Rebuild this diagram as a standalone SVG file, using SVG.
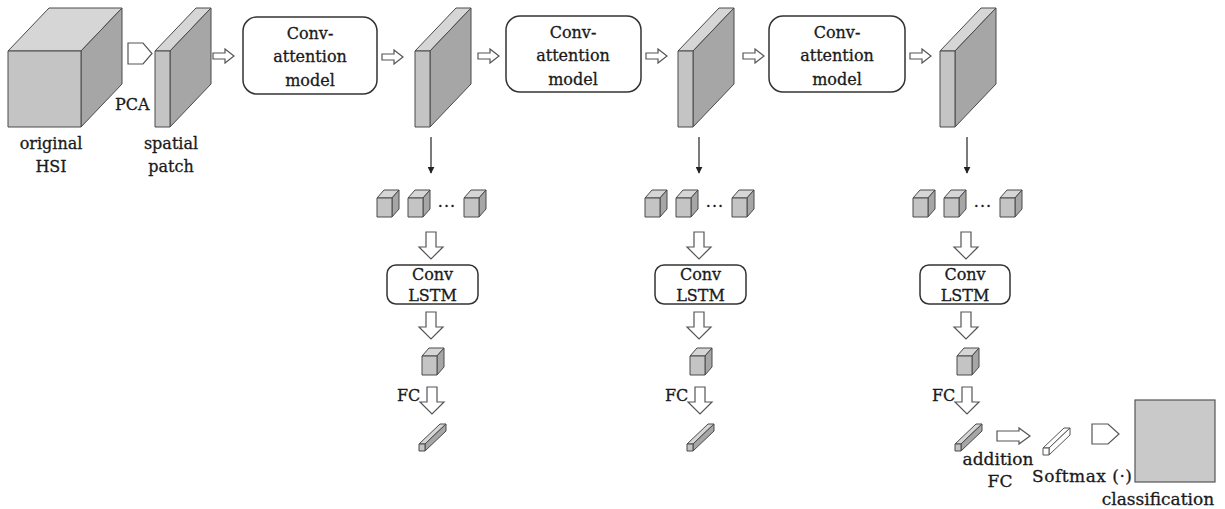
<svg xmlns="http://www.w3.org/2000/svg" width="1225" height="509" viewBox="0 0 1225 509">
<style>
text{font-family:"DejaVu Serif","Liberation Serif",serif;fill:#1a1a1a;stroke:#1a1a1a;stroke-width:0.3;font-size:16px}
.c{text-anchor:middle}
.top{fill:#d6d6d6;stroke:#4a4a4a;stroke-width:1;stroke-linejoin:round}
.front{fill:#c4c4c4;stroke:#4a4a4a;stroke-width:1;stroke-linejoin:round}
.side{fill:#a6a6a6;stroke:#4a4a4a;stroke-width:1;stroke-linejoin:round}
.box{fill:#fff;stroke:#333;stroke-width:1.5}
.ha{fill:#fff;stroke:#555;stroke-width:1.2;stroke-linejoin:miter}
.thin{stroke:#222;stroke-width:1.2;fill:none}
.wb{fill:#fff;stroke:#555;stroke-width:1;stroke-linejoin:round}
.lg{font-size:17px}
</style>
<defs>
<marker id="ah" viewBox="0 0 10 10" refX="9" refY="5" markerWidth="7" markerHeight="7" markerUnits="userSpaceOnUse" orient="auto"><path d="M0,0 L10,5 L0,10 Z" fill="#222"/></marker>
<path id="ra" class="ha" d="M0,-3 H12 V-7 L21,0 L12,7 V3 H0 Z"/>
<path id="da" class="ha" d="M-5,0 H5 V15 H12 L0,27 L-12,15 H-5 Z"/>
<g id="cube">
<path class="top" d="M0,0 L15,0 L22,-8 L7,-8 Z"/>
<path class="side" d="M15,0 L22,-8 L22,11 L15,19 Z"/>
<rect class="front" x="0" y="0" width="15" height="19"/>
</g>
<g id="bar">
<path class="top" d="M0,0 L6,0 L27,-20 L21,-20 Z"/>
<path class="side" d="M6,0 L27,-20 L27,-13 L6,7 Z"/>
<rect class="front" x="0" y="0" width="6" height="7"/>
</g>
<g id="wbar">
<path class="wb" d="M0,0 L6,0 L27,-20 L21,-20 Z"/>
<path class="wb" d="M6,0 L27,-20 L27,-13 L6,7 Z"/>
<rect class="wb" x="0" y="0" width="6" height="7"/>
</g>
<g id="slab">
<path class="top" d="M0,0 L15,0 L56,-43 L41,-43 Z"/>
<path class="side" d="M15,0 L56,-43 L56,33 L15,76 Z"/>
<rect class="front" x="0" y="0" width="15" height="76"/>
</g>
</defs>

<g id="connectors">
<path class="ha" d="M128,43 H143 L152,53.5 L143,64 H128 Z"/>
<use href="#ra" x="213" y="56"/>
<use href="#ra" x="382" y="57"/>
<use href="#ra" x="478" y="56"/>
<use href="#ra" x="646" y="56"/>
<use href="#ra" x="743" y="56"/>
<use href="#ra" x="910" y="56"/>
<line class="thin" x1="431" y1="137" x2="431" y2="173" marker-end="url(#ah)"/>
<line class="thin" x1="699" y1="137" x2="699" y2="173" marker-end="url(#ah)"/>
<line class="thin" x1="967" y1="137" x2="967" y2="173" marker-end="url(#ah)"/>
<use href="#da" x="431" y="232"/>
<use href="#da" x="699" y="232"/>
<use href="#da" x="966" y="232"/>
<use href="#da" x="431" y="312"/>
<use href="#da" x="699" y="312"/>
<use href="#da" x="966" y="312"/>
<use href="#da" x="432" y="387"/>
<use href="#da" x="700" y="387"/>
<use href="#da" x="967" y="387"/>
<path class="ha" d="M997,431 H1019 V428 L1030,436 L1019,444 V441 H997 Z"/>
<path class="ha" d="M1092,424 H1108 L1119,434 L1108,444 H1092 Z"/>
</g>

<g id="original-hsi">
<path class="top" d="M8,51 L81,51 L122,8 L49,8 Z"/>
<path class="side" d="M81,51 L122,8 L122,84 L81,127 Z"/>
<rect class="front" x="8" y="51" width="73" height="76"/>
<text class="c" x="51" y="149">original</text>
<text class="c" x="51" y="172">HSI</text>
</g>
<g id="pca"><text x="115" y="110">PCA</text></g>
<g id="spatial-patch">
<use href="#slab" x="155" y="51"/>
<text class="c" x="171" y="149">spatial</text>
<text class="c" x="171" y="172">patch</text>
</g>

<g id="conv-attention-1">
<rect class="box" x="243" y="17" width="134" height="77" rx="14"/>
<text class="c" x="310" y="39">Conv-</text>
<text class="c" x="310" y="62">attention</text>
<text class="c" x="310" y="86">model</text>
</g>
<g id="conv-attention-2">
<rect class="box" x="506" y="16" width="135" height="76" rx="14"/>
<text class="c" x="573" y="38">Conv-</text>
<text class="c" x="573" y="61">attention</text>
<text class="c" x="573" y="85">model</text>
</g>
<g id="conv-attention-3">
<rect class="box" x="769" y="16" width="136" height="76" rx="14"/>
<text class="c" x="837" y="38">Conv-</text>
<text class="c" x="837" y="61">attention</text>
<text class="c" x="837" y="85">model</text>
</g>
<g id="feature-map-1"><use href="#slab" x="415" y="51"/></g>
<g id="feature-map-2"><use href="#slab" x="678" y="51"/></g>
<g id="feature-map-3"><use href="#slab" x="940" y="51"/></g>

<g id="column-1">
<use href="#cube" x="377" y="198"/>
<use href="#cube" x="408" y="198"/>
<text class="c" x="447" y="212" letter-spacing="1">···</text>
<use href="#cube" x="464" y="198"/>
<rect class="box" x="387" y="265" width="91" height="39" rx="9"/>
<text class="c" x="432.5" y="280">Conv</text>
<text class="c" x="432.5" y="301">LSTM</text>
<use href="#cube" x="422" y="356"/>
<text x="397" y="401">FC</text>
<use href="#bar" x="419" y="444"/>
</g>
<g id="column-2">
<use href="#cube" x="645" y="198"/>
<use href="#cube" x="676" y="198"/>
<text class="c" x="715" y="212" letter-spacing="1">···</text>
<use href="#cube" x="732" y="198"/>
<rect class="box" x="655" y="265" width="91" height="39" rx="9"/>
<text class="c" x="700.5" y="280">Conv</text>
<text class="c" x="700.5" y="301">LSTM</text>
<use href="#cube" x="690" y="356"/>
<text x="665" y="401">FC</text>
<use href="#bar" x="687" y="444"/>
</g>
<g id="column-3">
<use href="#cube" x="913" y="198"/>
<use href="#cube" x="944" y="198"/>
<text class="c" x="983" y="212" letter-spacing="1">···</text>
<use href="#cube" x="1000" y="198"/>
<rect class="box" x="920" y="265" width="90" height="39" rx="9"/>
<text class="c" x="965" y="280">Conv</text>
<text class="c" x="965" y="301">LSTM</text>
<use href="#cube" x="957" y="356"/>
<text x="932" y="401">FC</text>
<use href="#bar" x="955" y="444"/>
</g>
<g id="addition-fc">
<use href="#wbar" x="1043" y="448"/>
<text class="c lg" x="998" y="465">addition</text>
<text class="c lg" x="1000" y="487">FC</text>
<text class="lg" x="1032" y="482" textLength="100" lengthAdjust="spacing">Softmax (·)</text>
</g>
<g id="classification">
<rect x="1135" y="400" width="80" height="82" fill="#c9c9c9" stroke="#555" stroke-width="1.2"/>
<text class="c lg" x="1158" y="505">classification</text>
</g>
</svg>
